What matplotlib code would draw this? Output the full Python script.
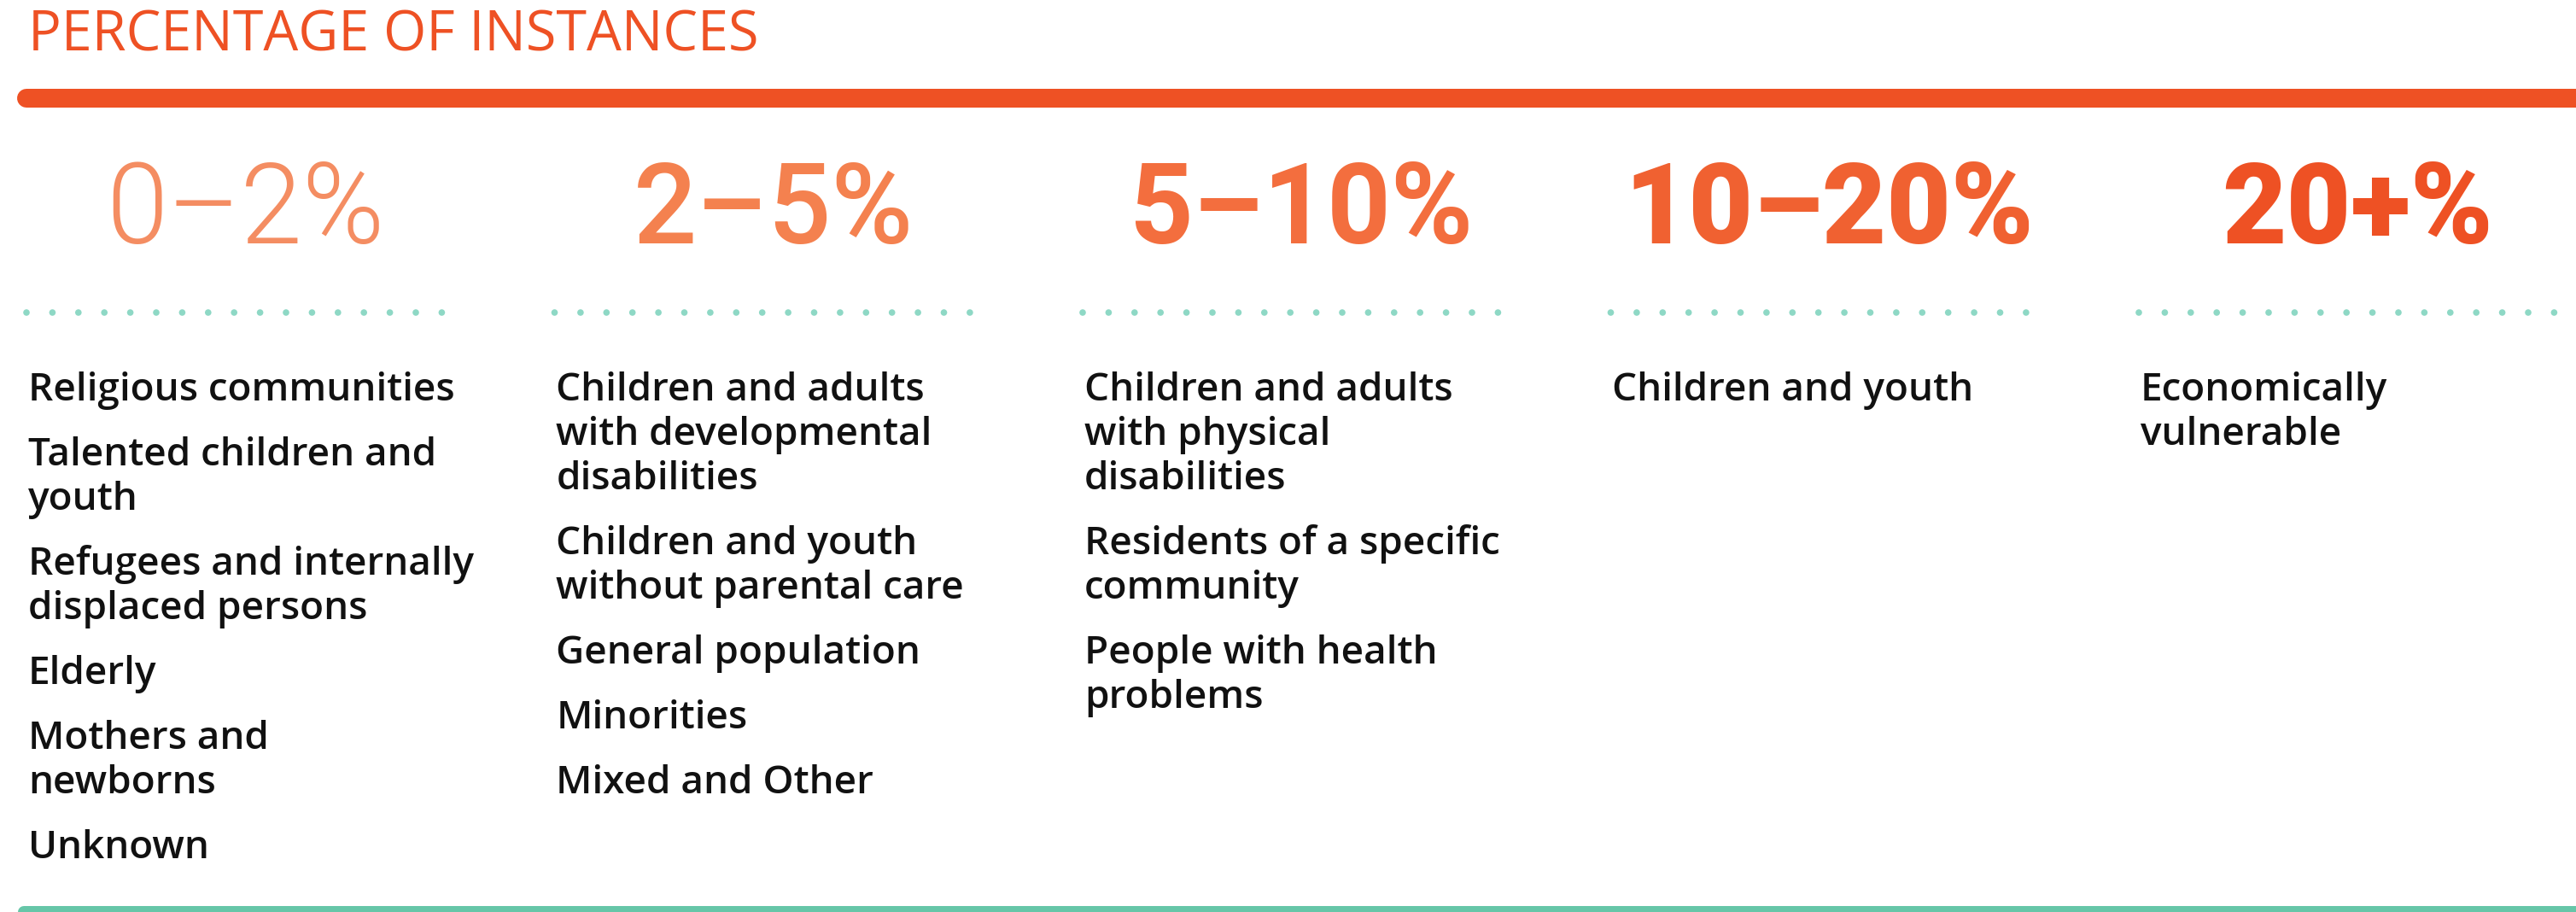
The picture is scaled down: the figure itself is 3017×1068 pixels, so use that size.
import matplotlib
matplotlib.use("Agg")
import matplotlib.pyplot as plt

# header / range labels
title = "PERCENTAGE OF INSTANCES"
ranges = ["0\u20132%", "2\u20135%", "5\u201310%", "10\u201320%", "20+%"]
range_colors = ["#F48D62", "#F4814F", "#F36E3E", "#F06131", "#EE5124"]
range_weights = [300, 500, 700, 900, 900]

# groups falling in each range (line breaks as in the original)
groups_0_2 = ["Religious communities", "Talented children and\nyouth",
              "Refugees and internally\ndisplaced persons", "Elderly",
              "Mothers and\nnewborns", "Unknown"]
groups_2_5 = ["Children and adults\nwith developmental\ndisabilities",
              "Children and youth\nwithout parental care", "General population",
              "Minorities", "Mixed and Other"]
groups_5_10 = ["Children and adults\nwith physical\ndisabilities",
               "Residents of a specific\ncommunity", "People with health\nproblems"]
groups_10_20 = ["Children and youth"]
groups_20_plus = ["Economically\nvulnerable"]
groups = [groups_0_2, groups_2_5, groups_5_10, groups_10_20, groups_20_plus]

W, H = 3017, 1068
fig = plt.figure(figsize=(W / 100, H / 100), dpi=100)
ax = fig.add_axes([0, 0, 1, 1])
ax.set_xlim(0, W)
ax.set_ylim(H, 0)
ax.axis("off")

px = 72 / 100  # pixels -> points

# title and top bar
ax.text(33, 59, title, color="#EE5124", fontsize=46.5, weight="medium",
        family=["Open Sans", "DejaVu Sans"], va="baseline", ha="left")
ax.plot([31, W + 100], [115, 115], color="#EE5124", lw=22 * px, solid_capstyle="round")

col_w = 618.5
for i, (rng, items) in enumerate(zip(ranges, groups)):
    x0 = 31 + i * col_w
    ax.text(x0 + 256, 285, rng, color=range_colors[i], fontsize=94,
            weight=range_weights[i], family=["Roboto", "DejaVu Sans"],
            ha="center", va="baseline")
    dots_x = [x0 + k * 30.4 for k in range(17)]
    ax.scatter(dots_x, [366] * 17, s=30, color="#8ED8C5", edgecolors="none")

    y = 469
    for item in items:
        for line in item.split("\n"):
            ax.text(x0 + 2, y, line, color="#111111", fontsize=33, weight="semibold",
                    family=["Open Sans", "DejaVu Sans"], ha="left", va="baseline")
            y += 52
        y += 76 - 52

# bottom bar (only its top edge shows)
ax.plot([28, W + 100], [1068, 1068], color="#66C6A8", lw=14 * px, solid_capstyle="round")

fig.savefig("out.png", dpi=100, facecolor="white")
